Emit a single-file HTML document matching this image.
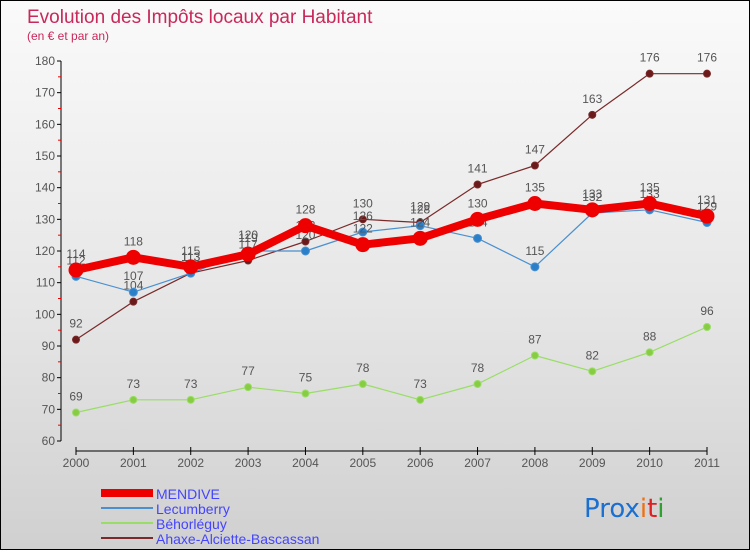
<!DOCTYPE html>
<html><head><meta charset="utf-8"><style>
body{margin:0;width:750px;height:550px;overflow:hidden;font-family:"Liberation Sans",sans-serif}
#c{position:absolute;left:0;top:0;width:748px;height:548px;border:1px solid #000;background:linear-gradient(#fafafa,#e6e6e6 55%,#d0d0d0)}
</style></head><body>
<div id="c">
<svg id="s" width="748" height="548" xmlns="http://www.w3.org/2000/svg">
<text x="26" y="22" font-size="19" fill="#c8285a">Evolution des Impôts locaux par Habitant</text>
<text x="26" y="39" font-size="12" fill="#c8285a">(en € et par an)</text>
<g id="axes"></g><g id="series"></g>
<g>
<rect x="100" y="488" width="52" height="8" fill="#e00"/>
<text x="155" y="498" font-size="14" fill="#44f">MENDIVE</text>
<rect x="100" y="506" width="52" height="2" fill="#4a90d0"/>
<text x="155" y="513" font-size="14" fill="#44f">Lecumberry</text>
<rect x="100" y="521" width="52" height="2" fill="#99dd66"/>
<text x="155" y="528" font-size="14" fill="#44f">Béhorléguy</text>
<rect x="100" y="536" width="52" height="2" fill="#7a2a2a"/>
<text x="155" y="543" font-size="14" fill="#44f">Ahaxe-Alciette-Bascassan</text>
</g>
<g font-size="26" font-family="'DejaVu Sans',sans-serif">
<text x="583" y="516"><tspan fill="#1a6fd0">Pro</tspan><tspan fill="#1a6fd0">x</tspan><tspan fill="#f07010">i</tspan><tspan fill="#e02020">t</tspan><tspan fill="#30a030">i</tspan></text>
</g>
</svg></div>
<script>
const years=[2000,2001,2002,2003,2004,2005,2006,2007,2008,2009,2010,2011];
const mendive=[114,118,115,119,128,122,124,130,135,133,135,131];
const lecumberry=[112,107,113,120,120,126,128,124,115,132,133,129];
const behorleguy=[69,73,73,77,75,78,73,78,87,82,88,96];
const ahaxe=[92,104,113,117,123,130,129,141,147,163,176,176];
const yTicks=[60,70,80,90,100,110,120,130,140,150,160,170,180];
const NS="http://www.w3.org/2000/svg";
const x=i=>75+i*(631/11);
const y=v=>440-(v-60)*(380/120);
function mk(t,a,p){const e=document.createElementNS(NS,t);for(const k in a)e.setAttribute(k,a[k]);p.appendChild(e);return e;}
const ax=document.getElementById('axes');
const yl=mk('line',{x1:60,y1:y(180),x2:60,y2:y(60),stroke:'#000'},ax);


yTicks.forEach(v=>{
 mk('line',{x1:56,x2:60,y1:y(v),y2:y(v),stroke:'#000'},ax);
 if(v<180)mk('line',{x1:57,x2:60,y1:y(v+5),y2:y(v+5),stroke:'#e00'},ax);
 const t=mk('text',{x:54,y:y(v)+4,'font-size':12,fill:'#555','text-anchor':'end'},ax);t.textContent=v;
 
 
});
const xl=mk('line',{x1:x(0),y1:450,x2:x(11),y2:450,stroke:'#000'},ax);


years.forEach((yr,i)=>{
 mk('line',{x1:x(i),x2:x(i),y1:446,y2:454,stroke:'#000'},ax);
 const t=mk('text',{x:x(i),y:466,'font-size':12,fill:'#555','text-anchor':'middle'},ax);t.textContent=yr;
 
 
});
const sg=document.getElementById('series');
function series(d,name,col,w,r,dot){
 const g=mk('g',{},sg);
 
 
 mk('polyline',{points:d.map((v,i)=>x(i)+','+y(v)).join(' '),fill:'none',stroke:col,'stroke-width':w,'stroke-linejoin':'round'},g);
 d.forEach((v,i)=>{
  const c=mk('circle',{cx:x(i),cy:y(v),r:r,fill:dot,stroke:col,'stroke-width':1},g);
  
  
  const t=mk('text',{x:x(i),y:y(v)-12,'font-size':12,fill:'#555','text-anchor':'middle'},g);t.textContent=v;
 });
}
series(behorleguy,'behorleguy','#99dd66',1.2,3.5,'#88cc44');
series(ahaxe,'ahaxe','#7a2a2a',1.2,3.5,'#6a1a1a');
series(lecumberry,'lecumberry','#4a90d0',1.2,4,'#2a80c8');
series(mendive,'mendive','#ee0000',8,7,'#ee0000');
</script>
</body></html>
